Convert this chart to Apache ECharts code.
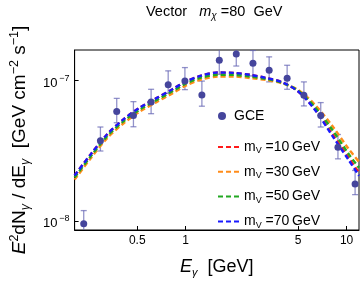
<!DOCTYPE html>
<html><head><meta charset="utf-8">
<script src="https://cdn.jsdelivr.net/npm/echarts@6/dist/echarts.min.js"></script>
<style>html,body{margin:0;padding:0;background:#fff}#c{width:360px;height:284px}</style>
</head><body><div id="c"></div>
<script>
const FONT = 'Liberation Sans';
// tick marks
const xTicks = [0.5, 1, 5, 10];
const xTickLabels = ['0.5', '1', '5', '10'];
const yTicks = [1e-8, 1e-7];
const yTickExp = ['\u22128', '\u22127'];
// GCE data points (E [GeV], E^2 dN/dE, lower, upper)
const gceE = [0.2324, 0.2951, 0.3727, 0.4734, 0.6097, 0.7785, 0.989, 1.261, 1.618, 2.063, 2.619, 3.303, 4.272, 5.43, 6.91, 8.84, 11.30];
const gceFlux = [9.57e-9, 3.73e-8, 6.03e-8, 5.65e-8, 7.05e-8, 9.36e-8, 9.92e-8, 7.88e-8, 1.394e-7, 1.546e-7, 1.327e-7, 1.185e-7, 1.038e-7, 7.85e-8, 5.65e-8, 3.35e-8, 1.837e-8];
const gceLo = [7.7e-9, 3.15e-8, 5.01e-8, 4.69e-8, 5.81e-8, 8.11e-8, 8.62e-8, 6.57e-8, 1.109e-7, 1.27e-7, 1.08e-7, 9.79e-8, 8.67e-8, 6.6e-8, 4.67e-8, 2.77e-8, 1.54e-8];
const gceHi = [1.185e-8, 4.67e-8, 7.47e-8, 7.08e-8, 8.67e-8, 1.173e-7, 1.238e-7, 9.92e-8, 1.75e-7, 1.93e-7, 1.64e-7, 1.476e-7, 1.286e-7, 9.79e-8, 6.97e-8, 4.13e-8, 2.29e-8];
// model curves
const curveE = [0.204, 0.2565, 0.324, 0.41, 0.518, 0.654, 0.827, 1.0, 1.249, 1.579, 1.997, 2.522, 3.189, 4.033, 5.093, 6.44, 8.145, 10.28, 11.95];
const mV10 = [2.11e-8, 2.98e-8, 4.13e-8, 5.29e-8, 6.41e-8, 7.47e-8, 8.67e-8, 9.84e-8, 1.086e-7, 1.141e-7, 1.135e-7, 1.098e-7, 1.042e-7, 9.68e-8, 8.22e-8, 6.16e-8, 4.18e-8, 2.84e-8, 2.20e-8];
const mV30 = [1.97e-8, 2.79e-8, 3.87e-8, 4.95e-8, 6.00e-8, 7.00e-8, 8.11e-8, 9.21e-8, 1.017e-7, 1.068e-7, 1.068e-7, 1.042e-7, 1.008e-7, 9.52e-8, 8.48e-8, 6.63e-8, 4.77e-8, 3.27e-8, 2.64e-8];
const mV50 = [2.04e-8, 2.88e-8, 4.00e-8, 5.12e-8, 6.21e-8, 7.23e-8, 8.39e-8, 9.52e-8, 1.05e-7, 1.098e-7, 1.098e-7, 1.068e-7, 1.025e-7, 9.60e-8, 8.34e-8, 6.36e-8, 4.47e-8, 3.01e-8, 2.39e-8];
const mV70 = [2.11e-8, 2.98e-8, 4.13e-8, 5.29e-8, 6.41e-8, 7.47e-8, 8.67e-8, 9.84e-8, 1.086e-7, 1.141e-7, 1.135e-7, 1.098e-7, 1.042e-7, 9.68e-8, 8.22e-8, 6.07e-8, 4.05e-8, 2.73e-8, 2.10e-8];
const masses = ['10', '30', '50', '70'];
const curveSets = [mV10, mV30, mV50, mV70];
const curveColors = ['#ff1a1a', '#ff8c1a', '#22a822', '#1a1aff'];

const chart = echarts.init(document.getElementById('c'), null, {renderer: 'canvas'});

const lineSeries = curveSets.map((vals, k) => ({
  name: 'mV' + masses[k],
  type: 'line',
  data: curveE.map((e, i) => [e, vals[i]]),
  smooth: 0.3,
  showSymbol: false,
  symbol: 'none',
  z: 3,
  lineStyle: {color: curveColors[k], width: 2.4, type: [5, 3]},
  itemStyle: {color: curveColors[k]}
}));

const txt = (size, extra) => Object.assign({fontSize: size, fontFamily: FONT, color: '#000', fontWeight: 'normal'}, extra || {});

const option = {
  animation: false,
  backgroundColor: '#fff',
  textStyle: {fontFamily: FONT},
  title: {
    text: '{n|Vector   }{i|m}{sub|\u03c7}{n| =80  GeV}',
    left: 141, top: -2,
    textStyle: {
      fontWeight: 'normal',
      rich: {
        n: txt(14.5, {lineHeight: 18}),
        i: txt(14.5, {fontStyle: 'italic', lineHeight: 18}),
        sub: txt(10, {fontStyle: 'italic', verticalAlign: 'bottom', lineHeight: 10})
      }
    }
  },
  grid: {left: 69, top: 50, width: 290, height: 180, show: true, borderColor: '#000', borderWidth: 1, containLabel: false},
  legend: [{
    data: ['GCE'],
    orient: 'vertical', left: 213, top: 104,
    icon: 'circle', itemWidth: 14, itemHeight: 8,
    textStyle: txt(14)
  }, {
    data: masses.map(m => 'mV' + m),
    orient: 'vertical', left: 212, top: 135, itemGap: 9.3,
    itemWidth: 21, itemHeight: 10,
    itemStyle: {opacity: 0},
    formatter: name => '{m|m}{sub|V}{t| =' + name.slice(2) + '\u2009GeV}',
    textStyle: {
      rich: {
        m: txt(14, {lineHeight: 17}),
        sub: txt(9, {verticalAlign: 'bottom', lineHeight: 11}),
        t: txt(14, {lineHeight: 17})
      }
    }
  }],
  xAxis: {
    type: 'log', logBase: 10, min: 0.204, max: 11.95,
    name: '{i|E}{sub|\u03b3}{n|  [GeV]}',
    nameLocation: 'middle', nameGap: 26,
    nameTextStyle: {
      rich: {
        i: txt(18, {fontStyle: 'italic', lineHeight: 22}),
        sub: txt(11, {fontStyle: 'italic', verticalAlign: 'bottom', lineHeight: 12}),
        n: txt(18, {lineHeight: 22})
      }
    },
    axisLine: {show: true, lineStyle: {color: '#000', width: 1}},
    axisTick: {show: true, inside: true, length: 4, customValues: xTicks, lineStyle: {color: '#000'}},
    minorTick: {show: false},
    splitLine: {show: false},
    axisLabel: {
      customValues: xTicks,
      formatter: v => { const i = xTicks.findIndex(t => Math.abs(t - v) < 1e-9 * t + 1e-12); return i >= 0 ? xTickLabels[i] : ''; },
      fontSize: 12, color: '#000', fontFamily: FONT, margin: 5
    }
  },
  yAxis: {
    type: 'log', logBase: 10, min: 8.62e-9, max: 1.652e-7,
    name: '{i|E}{sup|2}{n|dN}{sub|\u03b3}{n| / dE}{sub|\u03b3}{n|  [GeV cm}{sup|\u22122}{n| s}{sup|\u22121}{n|]}',
    nameLocation: 'middle', nameGap: 40, nameRotate: 90,
    nameTextStyle: {
      rich: {
        i: txt(19, {fontStyle: 'italic', lineHeight: 24}),
        n: txt(19, {lineHeight: 24}),
        sup: txt(12.5, {verticalAlign: 'top', lineHeight: 12}),
        sub: txt(12.5, {fontStyle: 'italic', verticalAlign: 'bottom', lineHeight: 12})
      }
    },
    axisLine: {show: true, lineStyle: {color: '#000', width: 1}},
    axisTick: {show: true, inside: true, length: 4, customValues: yTicks, lineStyle: {color: '#000'}},
    minorTick: {show: false},
    splitLine: {show: false},
    axisLabel: {
      customValues: yTicks,
      formatter: v => { const i = yTicks.findIndex(t => Math.abs(t - v) < 1e-3 * t); return i >= 0 ? '{b|10}{s|' + yTickExp[i] + '}' : ''; },
      margin: 5,
      rich: {
        b: txt(13, {lineHeight: 13, padding: [5, 2, 0, 0]}),
        s: txt(9, {verticalAlign: 'top', lineHeight: 9})
      }
    }
  },
  series: [{
    name: 'errbars',
    type: 'custom',
    clip: true,
    z: 2,
    data: gceE.map((e, i) => [e, gceLo[i], gceHi[i]]),
    encode: {x: 0, y: [1, 2]},
    renderItem: (params, api) => {
      const x = api.value(0);
      const pLo = api.coord([x, api.value(1)]);
      const pHi = api.coord([x, api.value(2)]);
      const w = 3;
      const st = {stroke: 'rgba(100,100,180,0.7)', lineWidth: 1.3};
      return {type: 'group', children: [
        {type: 'line', shape: {x1: pLo[0], y1: pLo[1], x2: pHi[0], y2: pHi[1]}, style: st},
        {type: 'line', shape: {x1: pLo[0] - w, y1: pLo[1], x2: pLo[0] + w, y2: pLo[1]}, style: st},
        {type: 'line', shape: {x1: pHi[0] - w, y1: pHi[1], x2: pHi[0] + w, y2: pHi[1]}, style: st}
      ]};
    }
  }].concat(lineSeries).concat([{
    name: 'GCE',
    type: 'scatter',
    data: gceE.map((e, i) => [e, gceFlux[i]]),
    symbol: 'circle', symbolSize: 7,
    z: 4,
    itemStyle: {color: '#45459c', opacity: 1}
  }])
};
chart.setOption(option);
</script>
</body></html>
